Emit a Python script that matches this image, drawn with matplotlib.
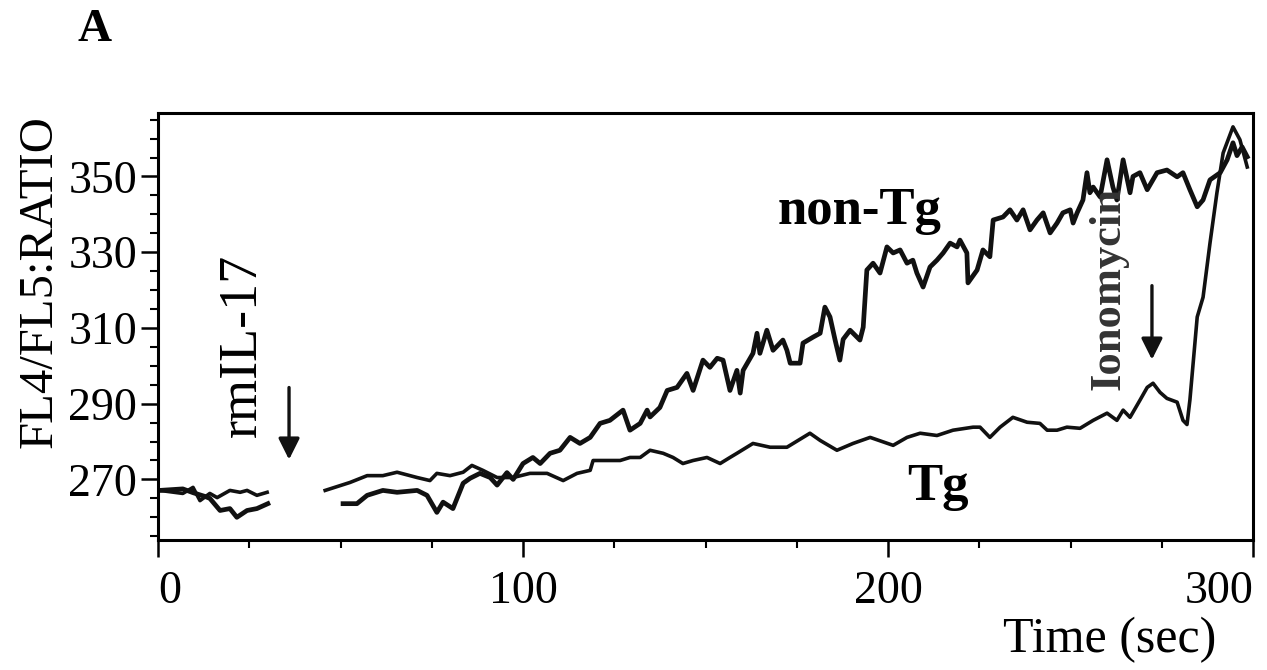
import matplotlib as mpl
mpl.use('Agg')
import matplotlib.pyplot as plt
from matplotlib.ticker import MultipleLocator

plt.rcParams['font.family'] = ['Liberation Serif', 'DejaVu Serif']

# Tg trace, before and after the rmIL-17 addition gap
tg_t1 = [0.5, 6.8, 9.6, 11.5, 14.2, 16.2, 19.7, 22.5, 24.4, 27.1, 29.9]
tg_v1 = [267.1, 266.3, 267.9, 264.4, 266.3, 265.2, 267.1, 266.6, 267.1, 265.8, 266.6]
tg_t2 = [45.8, 52.6, 57.3, 61.6, 65.5, 71.0, 74.5, 76.4, 80.0, 83.6, 86.0, 89.0, 92.9,
         97.3, 101.9, 106.6, 111.0, 114.8, 118.4, 119.2, 123.0, 126.6, 129.3, 132.1,
         134.8, 138.4, 141.1, 143.8, 146.6, 150.4, 154.0, 156.7, 158.6, 163.0, 167.7,
         172.3, 178.6, 181.4, 186.0, 190.4, 195.1, 201.4, 205.2, 208.8, 213.4, 217.8,
         223.3, 225.2, 227.9, 230.7, 234.2, 238.1, 241.6, 243.6, 246.3, 249.0, 252.6,
         256.2, 260.0, 262.7, 264.4, 266.3, 269.0, 271.0, 272.6, 274.5, 276.4, 279.2,
         280.8, 281.9, 282.7, 284.7, 286.3, 288.2, 290.1, 291.8, 294.5, 296.4, 298.4]
tg_v2 = [267.1, 269.2, 271.0, 271.0, 271.9, 270.5, 269.7, 271.6, 271.0, 271.9, 273.7, 272.4, 270.5,
         270.5, 271.6, 271.6, 269.7, 271.6, 272.4, 275.0, 275.0, 275.0, 275.8, 275.8,
         277.7, 276.9, 275.8, 274.2, 275.0, 275.8, 274.2, 275.8, 276.9, 279.5, 278.5,
         278.5, 282.2, 280.3, 277.7, 279.5, 281.1, 279.0, 281.1, 282.2, 281.6, 283.0,
         283.8, 283.8, 281.1, 283.8, 286.4, 285.1, 284.8, 283.0, 283.0, 283.8, 283.5,
         285.6, 287.5, 285.6, 288.3, 286.4, 290.9, 294.3, 295.4, 293.0, 291.4, 290.4,
         285.6, 284.5, 291.0, 312.9, 318.1, 332.4, 345.7, 356.2, 363.1, 359.7, 352.5]

# non-Tg trace
ntg_t1 = [0.5, 6.8, 9.6, 12.9, 14.2, 17.0, 19.7, 21.6, 24.4, 27.1, 30.1]
ntg_v1 = [267.1, 267.5, 266.5, 265.5, 265.0, 261.8, 262.3, 260.0, 261.8, 262.3, 263.6]
ntg_t2 = [50.7, 54.5, 57.3, 61.6, 65.5, 71.0, 73.7, 76.4, 78.1, 80.8, 83.6, 85.5, 88.2,
          91.0, 92.9, 95.6, 97.3, 100.0, 102.7, 104.7, 107.4, 110.1, 112.9, 115.6, 118.4,
          121.1, 123.8, 127.4, 129.3, 132.1, 134.0, 134.8, 137.5, 139.5, 142.2, 144.9,
          146.6, 149.3, 151.2, 153.2, 154.8, 156.7, 158.6, 159.5, 160.3, 163.0, 164.1,
          164.9, 166.8, 168.5, 171.2, 172.3, 173.2, 175.9, 176.7, 179.5, 181.4, 182.7,
          184.1, 185.5, 186.8, 187.7, 189.6, 192.3, 193.2, 194.2, 195.9, 197.8, 199.7,
          201.4, 203.3, 205.2, 206.8, 207.9, 209.6, 211.5, 213.4, 215.1, 217.0, 218.9,
          219.7, 221.6, 221.9, 224.4, 226.0, 227.9, 228.8, 231.5, 233.4, 235.3, 237.0,
          238.9, 240.8, 242.5, 244.4, 246.3, 247.9, 249.9, 250.7, 251.8, 253.4, 254.5,
          255.3, 256.2, 258.1, 260.0, 261.6, 262.7, 264.4, 266.3, 267.1, 269.0, 271.0,
          273.7, 276.4, 279.2, 280.8, 282.7, 284.7, 286.3, 288.2, 291.0, 292.9, 294.5,
          295.6, 297.0, 298.4]
ntg_v2 = [263.6, 263.6, 265.8, 267.1, 266.6, 267.1, 265.8, 261.3, 264.0, 262.3, 269.0, 270.3, 271.6,
          270.5, 268.5, 271.8, 270.0, 274.2, 275.8, 274.2, 276.9, 277.7, 281.1, 279.5, 281.1,
          284.8, 285.6, 288.3, 283.0, 284.8, 288.3, 286.5, 289.0, 293.5, 294.3, 298.0,
          293.5, 301.5, 299.6, 302.0, 301.5, 293.5, 298.8, 292.8, 298.8, 303.3, 308.6,
          303.3, 309.4, 304.1, 306.8, 304.1, 300.7, 300.7, 306.0, 307.6, 308.6, 315.5,
          312.9, 306.8, 301.5, 307.0, 309.4, 306.8, 310.2, 325.3, 327.1, 324.5, 331.4,
          329.8, 330.6, 327.1, 327.9, 324.5, 320.8, 326.1, 327.9, 329.8, 332.4, 331.4,
          333.2, 329.8, 321.9, 325.3, 330.6, 328.8, 338.5, 339.3, 341.2, 338.5, 341.2,
          335.9, 338.5, 340.4, 335.1, 337.7, 340.4, 341.2, 337.7, 340.4, 343.8, 351.0,
          345.7, 347.2, 344.6, 354.4, 347.2, 343.8, 354.4, 345.7, 350.0, 351.0, 346.5,
          351.0, 351.7, 349.9, 351.0, 346.5, 342.0, 343.8, 349.1, 351.0, 354.4, 358.9,
          355.5, 357.8, 355.2]

x_ticks = [0, 100, 200, 300]
y_ticks = [270, 290, 310, 330, 350]

fig = plt.figure(figsize=(12.67, 6.70), dpi=100)
ax = fig.add_axes([0.1247, 0.194, 0.8643, 0.637])

ax.plot(tg_t1, tg_v1, color='#111111', lw=2.6, solid_joinstyle='round')
ax.plot(tg_t2, tg_v2, color='#111111', lw=2.6, solid_joinstyle='round')
ax.plot(ntg_t1, ntg_v1, color='#111111', lw=3.4, solid_joinstyle='round')
ax.plot(ntg_t2, ntg_v2, color='#111111', lw=3.4, solid_joinstyle='round')

ax.set_xlim(0, 300)
ax.set_ylim(254, 366.7)
ax.set_xticks(x_ticks, [str(v) for v in x_ticks])
ax.xaxis.set_minor_locator(MultipleLocator(25))
ax.set_yticks(y_ticks, [str(v) for v in y_ticks])
ax.yaxis.set_minor_locator(MultipleLocator(5))
ax.tick_params(which='major', direction='out', length=12, width=1.8, labelsize=33)
ax.tick_params(axis='x', which='major', pad=10)
ax.tick_params(axis='y', which='major', pad=3)
ax.tick_params(which='minor', direction='out', length=6, width=1.5)
for s in ax.spines.values():
    s.set_linewidth(2.2)

# the original has 300 pulled in so it stays inside the page
ax.get_xticklabels()[-1].set_horizontalalignment('right')
ax.get_xticklabels()[0].set_horizontalalignment('left')

fig.text(0.031, 0.58, 'FL4/FL5:RATIO', fontsize=35, rotation=90, ha='center', va='center')
fig.text(0.96, 0.045, 'Time (sec)', fontsize=36, ha='right', va='center')
fig.text(0.075, 0.955, 'A', fontsize=34, fontweight='bold', ha='center', va='center')

ax.text(23.3, 305.4, 'rmIL-17', fontsize=39, rotation=90, ha='center', va='center')
ax.annotate('', xy=(35.9, 274.5), xytext=(35.9, 295.0),
            arrowprops=dict(arrowstyle='-|>', color='#111111', lw=2.4, mutation_scale=32))
ax.text(260.3, 320.5, 'Ionomycin', fontsize=32, fontweight='bold', rotation=90,
        ha='center', va='center', color='#333333')
ax.annotate('', xy=(272.3, 300.9), xytext=(272.3, 321.9),
            arrowprops=dict(arrowstyle='-|>', color='#111111', lw=2.4, mutation_scale=32))
ax.text(192.3, 340.8, 'non-Tg', fontsize=38, fontweight='bold', ha='center', va='center')
ax.text(213.7, 267.9, 'Tg', fontsize=38, fontweight='bold', ha='center', va='center')

fig.savefig('out.png', dpi=100)
